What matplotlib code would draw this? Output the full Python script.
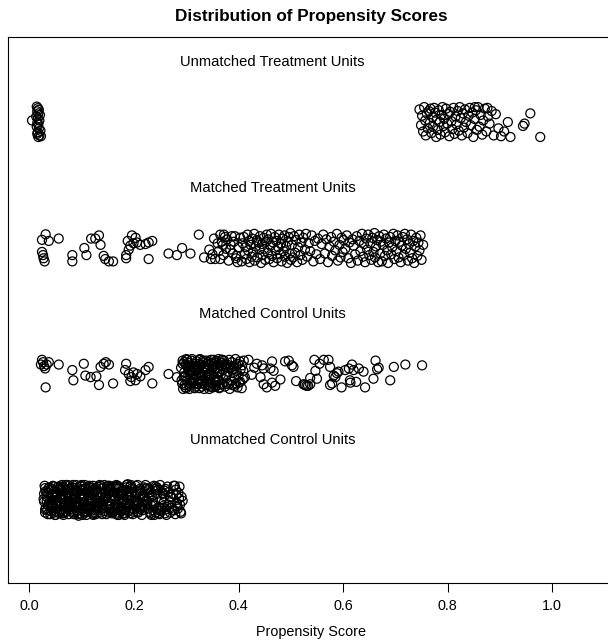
import numpy as np
import matplotlib.pyplot as plt

plt.rcParams['font.family'] = ['Liberation Sans', 'DejaVu Sans']

# propensity scores in thousandths, jitter in percent of the band half-height
ut_left_x = [14, 16, 18, 15, 17, 20, 13, 16, 19, 15, 17, 14, 18, 21, 16, 5, 15, 19, 17, 22]
ut_left_y = [98, 88, 78, 68, 55, 45, 35, 22, 10, -5, -15, -30, -42, -55, -65, 10, -75, -85, -95, -90]

ut_right_x = [746, 749, 751, 753, 755, 757, 758, 760, 762, 764,
              766, 767, 769, 771, 772, 774, 776, 778, 779, 781,
              783, 785, 786, 788, 790, 792, 793, 795, 797, 799,
              801, 803, 805, 807, 809, 811, 813, 815, 817, 819,
              821, 823, 825, 827, 829, 831, 833, 835, 838, 840,
              842, 844, 847, 849, 851, 854, 856, 858, 861, 863,
              866, 868, 871, 874, 877, 880, 884, 888, 892, 897,
              902, 908, 915, 920, 944, 947, 958, 977, 852, 876]
ut_right_y = [80, -20, 40, -60, 95, 10, -85, 55, -40, 70,
              -5, 85, -70, 30, -30, 90, 60, -95, 15, -50,
              75, 0, -80, 45, 95, -25, 20, -65, 85, -10,
              50, -90, 65, 5, -45, 90, -75, 35, -15, 70,
              -55, 95, 25, -85, 55, -35, 80, 0, -70, 40,
              90, -20, 60, -95, 20, 75, -50, 95, -30, 45,
              -80, 10, 85, -60, 35, -10, 70, -85, 50, -40,
              -90, -60, 0, -95, -25, -10, 55, -95, 95, 90]

mt_x = [31, 24, 37, 56, 24, 26, 27, 29, 82, 82,
        105, 109, 118, 126, 133, 136, 142, 145, 152, 160,
        185, 185, 188, 196, 193, 199, 203, 206, 212, 222,
        228, 235, 190, 228, 266, 282, 292, 308, 324, 334,
        344, 347, 350, 353, 355, 365, 368, 370, 365, 381,
        384, 387, 393, 396, 400, 403,
        360, 362, 371, 374, 376, 378, 389, 391, 398, 372, 385, 395,
        406, 408, 410, 412, 413, 415, 417, 418, 420, 421,
        423, 425, 426, 428, 430, 431, 433, 435, 436, 438,
        440, 441, 443, 445, 446, 448, 449, 451, 452, 454,
        456, 457, 459, 461, 462, 464, 466, 467, 469, 471,
        472, 474, 476, 477, 479, 481, 482, 484, 486, 488,
        489, 491, 493, 494, 496, 498, 499, 500,
        502, 504, 506, 508, 510, 512, 514, 516, 518, 520,
        522, 524, 527, 529, 531, 534, 537, 540, 543, 546, 549, 552,
        556, 559, 562, 565, 568, 571, 574, 577, 579, 582,
        585, 588, 590, 593, 595, 597, 599, 601,
        604, 607, 610, 612, 615, 618, 620, 623, 626, 628,
        631, 633, 636, 638, 640, 642, 644, 646, 648, 650,
        652, 654, 656, 658, 660, 661, 663, 665, 667, 669,
        671, 672, 674, 676, 678, 680, 682, 684, 686, 688,
        690, 692, 694, 696, 698, 700,
        702, 704, 706, 708, 710, 712, 714, 716, 718, 720,
        722, 724, 726, 728, 730, 732, 734, 736, 738, 740,
        742, 744, 746, 748, 750, 753]
mt_y = [87, 52, 45, 60, -25, -45, -65, -85, -45, -85,
        0, -45, 60, 60, 80, 20, -50, -70, -85, -85,
        -45, -65, 45, 80, 15, 30, 65, 35, 20, 25,
        35, 45, -10, -70, -35, -45, 0, -35, 85, -60,
        -10, -70, -40, 60, -70, -70, 40, 20, 85, -80,
        -10, 75, 75, -50, 5, 65,
        30, -20, -45, 70, -5, 55, -35, 40, -90, 85, 20, -65,
        -85, 30, 70, -40, 5, -70, 85, -15, 45, -90,
        20, -55, 60, -25, 90, -80, 10, 50, -60, 35,
        -10, 75, -95, 25, -45, 65, -5, -75, 40, 85,
        -30, 55, -70, 15, 90, -50, 35, -90, 70, -15,
        45, -65, 5, 85, -40, 25, -85, 60, -20, 80,
        -55, 10, -95, 40, 70, -35, 95, -75,
        20, -60, 75, -30, 50, -90, 5, 85, -45, 35,
        -75, 65, -10, 90, -55, 30, -20, 80, -85, 45, -40, 60,
        -70, 25, 85, -35, 55, -90, 10, 70, -50, 40,
        -15, 90, -80, 20, -60, 65, -25, 50,
        -5, 80, -65, 35, -95, 55, 15, -40, 75, -80,
        45, -20, 90, -55, 25, -90, 60, -10, 85, -45,
        30, -75, 65, -25, 95, -60, 10, 50, -90, 75,
        -35, 40, -85, 20, 85, -50, 60, -15, -95, 35,
        70, -40, 5, 90, -70, 45,
        -20, 80, -60, 40, -90, 15, 70, -45, 90, -5,
        55, -80, 25, -30, 85, -65, 45, -95, 10, 65,
        -50, 35, -15, 80, -75, 20]

mc_x = [24, 22, 26, 37, 30, 28, 33, 56, 31, 82,
        84, 104, 107, 117, 128, 133, 136, 142, 146, 152,
        160, 185, 183, 190, 195, 199, 203, 193, 206, 212,
        222, 228, 235, 266, 282,
        290, 292, 293, 295, 296, 298, 299, 301, 302, 304,
        305, 306, 308, 309, 311, 312, 313, 315, 316, 318,
        319, 320, 322, 323, 324, 326, 327, 328, 330, 331,
        332, 334, 335, 336, 338, 339, 340, 342, 343, 344,
        346, 347, 348, 350, 351, 352, 354, 355, 356, 358,
        359, 360, 362, 363, 364, 366, 367, 368, 370, 371,
        372, 374, 375, 376, 378, 379, 380, 382, 383, 384,
        386, 387, 388, 390, 391, 392, 394, 395, 396, 398,
        399, 400, 402, 403, 404, 406, 407, 408, 410, 412,
        297, 303, 310, 317, 325, 333, 341, 349, 357, 365,
        300, 314, 321, 329, 337, 345, 353, 361, 369, 377,
        385, 393, 401, 409, 294, 307, 328, 345, 361, 389,
        291, 296, 300, 304, 307, 311, 314, 318, 321, 325,
        329, 332, 336, 340, 344, 348, 352, 357, 364, 373,
        293, 298, 302, 306, 310, 313, 317, 322, 326, 331,
        335, 339, 343, 347, 351, 356, 360, 368, 381, 396,
        419, 435, 445, 448, 464, 467, 442, 448, 454, 464,
        480, 461, 489, 496, 502, 505, 524, 527, 530, 533,
        537, 537, 547, 550, 545, 563, 572, 575, 582, 585,
        588, 579, 575, 591, 604, 611, 617, 620, 630, 639,
        613, 642, 658, 662, 668, 665, 690, 697, 719, 751,
        614, 425, 430, 470, 510, 555, 597, 625]
mc_y = [90, 60, 75, 75, 35, 50, 60, 60, -85, 25,
        -40, 65, -10, -20, -15, -70, 45, 65, 75, 60,
        -60, 65, 25, 0, -20, 10, -40, -45, 0, -15,
        25, 45, -60, 0, -20,
        40, -60, 85, -20, 10, -85, 60, -40, 90, -5,
        70, -75, 25, -30, 95, -55, 45, 5, -90, 65,
        -15, 80, -65, 35, -45, 90, -25, 55, -80, 15,
        75, -95, 50, -10, 85, -50, 20, -70, 60, 0,
        -35, 90, -60, 40, -85, 65, -20, 30, -75, 80,
        10, -45, 95, -90, 55, -5, 70, -65, 25, -30,
        85, -80, 45, -15, 60, -55, 15, 90, -95, 35,
        -40, 75, -70, 5, 50, -25, 95, -60, 20, -85,
        65, -10, 80, -50, 30, -90, 55, -35, 85, -20,
        -70, 55, -45, 20, -90, 40, -5, 70, -55, 15,
        95, -25, 50, -60, 30, -80, 75, -40, 90, -10,
        45, -75, -55, 20, -95, 10, 60, -15, -70, 30,
        -40, 75, -90, 20, -60, 55, -25, -80, 45, 10,
        -45, 85, -70, 35, -95, 0, 90, -50, -85, 60,
        65, -15, 45, -95, 85, -35, 30, -60, 95, -5,
        40, -20, 75, -55, 50, -80, 35, 90, -65, 55,
        90, 65, 55, 35, 80, 20, -20, -65, -85, -55,
        -35, 35, 80, 85, 55, 45, -65, -70, -75, -75,
        -65, -25, 20, -30, 90, 90, 90, 45, -10, -20,
        5, -60, -70, 15, 25, 35, 60, 25, 35, 15,
        -40, -85, -30, 85, 40, 30, -40, 45, 60, 55,
        -55, -5, 40, -75, -45, 65, -85, -50]

uc_x = [28, 41, 55, 66, 80, 93, 104, 118, 131, 143, 156, 170, 181, 195, 207, 219, 233, 246, 262, 281,
        32, 45, 58, 70, 84, 97, 109, 121, 135, 148, 160, 173, 186, 198, 211, 224, 238, 252, 270, 289,
        30, 43, 52, 63, 77, 89, 101, 113, 126, 139, 151, 165, 177, 190, 202, 214, 228, 241, 258, 276,
        35, 48, 61, 73, 86, 99, 112, 124, 137, 150, 163, 176, 188, 201, 215, 229, 243, 256, 266, 293,
        27, 39, 50, 68, 82, 95, 107, 120, 133, 146, 158, 168, 183, 193, 209, 221, 235, 249, 264, 285,
        37, 47, 60, 72, 87, 91, 115, 128, 141, 154, 166, 179, 192, 205, 217, 231, 240, 254, 273, 279,
        29, 44, 57, 69, 79, 92, 105, 116, 129, 140, 153, 167, 180, 194, 206, 220, 236, 250, 268, 291,
        34, 46, 54, 65, 76, 88, 103, 114, 127, 138, 152, 164, 178, 189, 203, 216, 232, 247, 260, 284,
        31, 42, 59, 71, 83, 96, 108, 119, 132, 144, 157, 171, 184, 197, 210, 223, 237, 253, 275, 288,
        36, 49, 62, 74, 85, 98, 110, 122, 136, 149, 161, 174, 187, 199, 212, 226, 239, 255, 269, 280,
        33, 40, 53, 67, 81, 94, 106, 117, 130, 145, 159, 172, 182, 196, 208, 222, 234, 248, 263, 287,
        38, 51, 64, 75, 90, 100, 111, 125, 138, 151, 162, 175, 185, 200, 213, 227, 242, 257, 271, 282,
        30, 46, 56, 70, 78, 92, 104, 118, 134, 147, 155, 169, 183, 195, 205, 218, 230, 244, 259, 277,
        34, 43, 59, 68, 84, 96, 108, 123, 131, 142, 157, 170, 186, 199, 211, 225, 241, 251, 266, 286,
        28, 50, 62, 76, 87, 101, 113, 127, 139, 153, 166, 178, 191, 202, 216, 228, 238, 258, 272, 290,
        39, 52, 65, 79, 91, 102, 115, 129, 143, 155, 168, 181, 193, 207, 219, 233, 245, 261, 278, 283,
        33, 47, 58, 64, 73, 82, 90, 99, 106, 114, 122, 130, 139, 147, 155, 164, 172, 180, 189, 198,
        36, 41, 52, 61, 69, 77, 86, 94, 103, 111, 119, 128, 136, 145, 152, 161, 169, 177, 186, 212,
        30, 44, 50, 59, 67, 75, 83, 92, 100, 109, 117, 125, 133, 141, 150, 158, 167, 175, 184, 225,
        38, 49, 57, 66, 74, 81, 89, 97, 105, 113, 121, 129, 137, 146, 154, 163, 171, 179, 191, 204]
uc_y = [40, -70, 85, -20, 60, -90, 10, 75, -45, 95, -60, 25, -85, 50, -10, 80, -35, 65, -95, 30,
        -50, 90, -15, 65, -80, 35, -95, 55, -25, 80, 5, -65, 45, -90, 70, -5, 90, -55, 20, -75,
        75, -30, 50, -85, 20, 95, -55, -5, 60, -90, 40, 85, -15, -70, 30, -45, 10, -80, 60, 90,
        -90, 15, -60, 95, -40, 70, 30, -75, 90, -20, -50, 55, 100, -35, -95, 65, -60, 40, -30, -5,
        5, 60, -95, -30, 80, -15, -70, 45, -5, 25, -85, 70, -40, 85, -55, 50, -20, -90, 85, 45,
        -20, -80, 35, -55, 55, -70, 90, -35, 75, -60, 95, -10, 55, -20, 15, -85, 70, -40, -65, -90,
        90, -45, 70, 15, -25, 50, -85, -60, 20, -30, 65, -80, 5, 95, -75, 30, -5, 95, -15, 20,
        -65, 85, -5, -95, -60, -10, 65, 80, -90, 45, -40, 10, -55, 25, 90, -30, 50, -85, 70, -55,
        55, -20, -70, 40, 95, -85, -35, 15, 85, -70, 30, -95, 65, -50, -20, 75, -65, 5, 40, -30,
        -35, 50, 95, -50, -90, 60, 45, -95, -15, 70, -75, 40, -25, -60, 55, -10, -95, 45, -80, 65,
        20, -90, -40, 75, 30, -50, 95, -25, -65, 10, 50, -40, -95, 75, -80, 95, 25, -50, -45, 85,
        80, 35, -80, -10, -35, 85, -60, 50, 35, -80, 20, -70, 80, -5, 40, -55, 60, -15, 15, -20,
        -80, -5, 65, -75, 70, -30, -15, -45, 95, 55, -25, 90, -65, 35, -40, 5, -75, 80, -85, -65,
        45, 70, 10, 30, -70, 25, 75, -85, -40, -10, 85, -50, 20, -75, 60, -25, 85, -70, 50, 10,
        -10, -55, -30, 90, 5, -95, -45, 65, -55, 90, -90, 60, -30, 45, -65, 70, -35, 25, -50, -85,
        65, -75, 80, -45, -50, 40, 15, -20, 5, -60, 35, -10, -85, 95, 25, -95, 40, -60, 90, -40,
        -5, 55, -85, 35, -45, 80, -20, 60, -75, 15, 90, -55, 40, -90, 70, -30, 5, -65, 50, -10,
        70, -40, 20, -70, 95, -15, 45, -100, 25, -50, -20, 75, -80, 10, -40, 85, -95, 30, 95, -60,
        -60, 30, -25, 85, 5, -90, 65, -35, 95, -5, 55, -65, 15, -30, 90, -75, 45, -45, -25, 75,
        15, -95, 75, -50, 45, -25, 10, 90, -55, 70, -85, 35, -10, 60, -20, -60, 80, -85, 20, -35]

group_labels = ["Unmatched Treatment Units", "Matched Treatment Units",
                "Matched Control Units", "Unmatched Control Units"]
group_levels = [4, 3, 2, 1]
label_x = 0.465
xticks = [0.0, 0.2, 0.4, 0.6, 0.8, 1.0]

JIT = 0.125
groups = [
    (ut_left_x + ut_right_x, ut_left_y + ut_right_y, 4),
    (mt_x, mt_y, 3),
    (mc_x, mc_y, 2),
    (uc_x, uc_y, 1),
]

W, H = 608, 643
fig = plt.figure(figsize=(W / 100, H / 100), dpi=100)
ax = fig.add_axes([8 / W, 60 / H, 607 / W, 546 / H])

for xs, ys, lev in groups:
    x = np.array(xs) / 1000
    y = lev + np.array(ys) / 100 * JIT
    ax.scatter(x, y, s=42, facecolors="none", edgecolors="black", linewidths=0.9)

for lab, lev in zip(group_labels, group_levels):
    ax.text(label_x, lev + 0.48, lab, ha="center", va="center", fontsize=10.6)

ax.set_xlim(-0.041, 1.12)
ax.set_ylim(0.341, 4.675)
ax.set_yticks([])
ax.set_xticks(xticks)
ax.set_xticklabels([f"{t:.1f}" for t in xticks])
ax.tick_params(axis="x", direction="out", length=6.5, width=0.75, pad=5, labelsize=10.4)
for sp in ax.spines.values():
    sp.set_linewidth(0.8)

fig.text((8 + 615) / 2 / W, 1 - 16 / H, "Distribution of Propensity Scores",
         ha="center", va="center", fontsize=12.3, fontweight="bold")
fig.text((8 + 615) / 2 / W, 1 - 632 / H, "Propensity Score",
         ha="center", va="center", fontsize=10.4)

fig.savefig("out.png", dpi=100)
